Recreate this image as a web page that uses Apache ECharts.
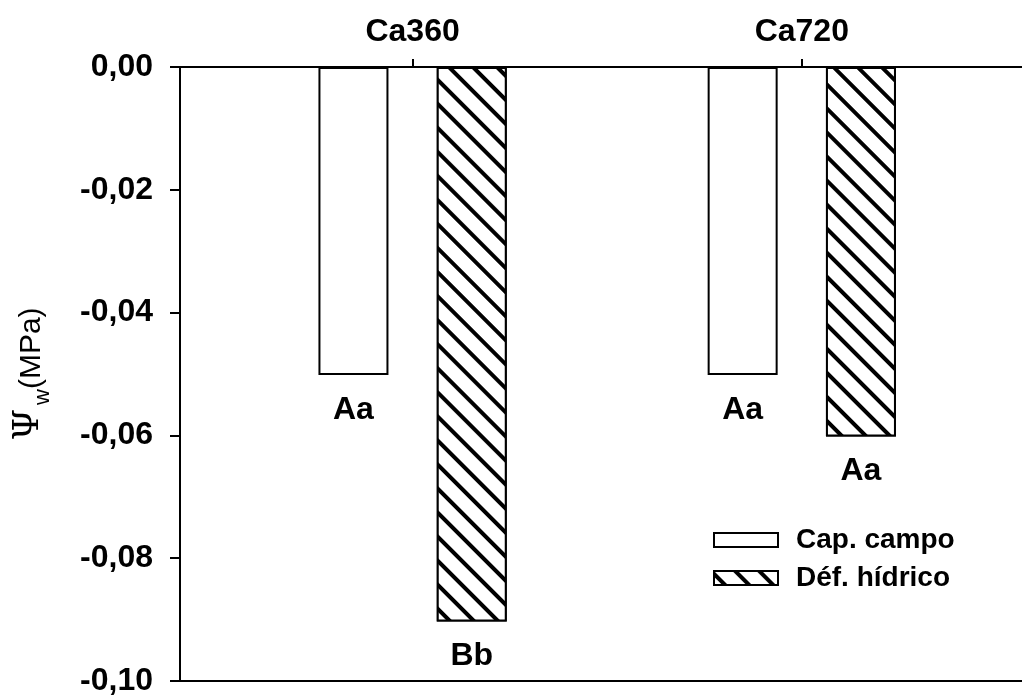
<!DOCTYPE html>
<html>
<head>
<meta charset="utf-8">
<script src="https://cdn.jsdelivr.net/npm/echarts@6/dist/echarts.min.js"></script>
<style>
  html, body { margin: 0; padding: 0; background: #fff; }
  #chart { width: 1022px; height: 697px; }
</style>
</head>
<body>
<div id="chart"></div>
<script>
// Water potential by CO2 level and water regime
const categories = ['Ca360', 'Ca720'];
const seriesNames = ['Cap. campo', 'Déf. hídrico'];
const capCampo = [-0.05, -0.05];
const defHidrico = [-0.09, -0.06];
const capCampoLetters = ['Aa', 'Aa'];
const defHidricoLetters = ['Bb', 'Aa'];
const yTicks = { min: -0.10, max: 0, interval: 0.02 };

const FONT = '"Liberation Sans", Arial, sans-serif';

const hatch = {
  symbol: 'rect',
  symbolSize: 1,
  dashArrayX: [1, 0],
  dashArrayY: [4, 13],
  rotation: Math.PI / 4,
  color: '#000',
  backgroundColor: '#fff'
};

function letterLabel(letters) {
  return {
    show: true,
    position: 'bottom',
    distance: 19,
    formatter: p => letters[p.dataIndex],
    color: '#000',
    fontFamily: FONT,
    fontWeight: 'bold',
    fontSize: 32
  };
}

const chart = echarts.init(document.getElementById('chart'), null, { renderer: 'canvas' });

chart.setOption({
  animation: false,
  backgroundColor: '#fff',
  grid: [
    { left: 180, right: 0, top: 67, bottom: 14 },
    { left: 218, right: 25.6, top: 67, bottom: 14 }
  ],
  legend: {
    orient: 'vertical',
    left: 713,
    top: 526,
    padding: 0,
    itemWidth: 64,
    itemHeight: 14,
    itemGap: 10,
    icon: 'rect',
    data: seriesNames,
    textStyle: {
      color: '#000',
      fontFamily: FONT,
      fontWeight: 'bold',
      fontSize: 28,
      padding: [0, 0, 0, 13]
    }
  },
  xAxis: [
    {
      gridIndex: 0, type: 'value', position: 'top', min: 0, max: 1,
      axisLine: { show: true, lineStyle: { color: '#000', width: 2 } },
      axisTick: { show: false }, axisLabel: { show: false }, splitLine: { show: false }
    },
    {
      gridIndex: 0, type: 'value', position: 'bottom', min: 0, max: 1,
      axisLine: { show: true, lineStyle: { color: '#000', width: 2 } },
      axisTick: { show: false }, axisLabel: { show: false }, splitLine: { show: false }
    },
    {
      gridIndex: 1, type: 'category', position: 'top', data: categories,
      axisLine: { show: false },
      axisTick: { show: true, alignWithLabel: true, length: 8, lineStyle: { color: '#000', width: 2 } },
      axisLabel: { margin: 19, color: '#000', fontFamily: FONT, fontWeight: 'bold', fontSize: 32 },
      splitLine: { show: false }
    }
  ],
  yAxis: [
    {
      gridIndex: 0, type: 'value',
      min: yTicks.min, max: yTicks.max, interval: yTicks.interval,
      axisLine: { show: true, onZero: false, lineStyle: { color: '#000', width: 2 } },
      axisTick: { show: true, inside: false, length: 10, lineStyle: { color: '#000', width: 2 } },
      axisLabel: {
        margin: 27, color: '#000', fontFamily: FONT, fontWeight: 'bold', fontSize: 32,
        formatter: v => v.toFixed(2).replace('.', ',')
      },
      splitLine: { show: false },
      name: '{psi|Ψ}{sub|w}{n|(MPa)}',
      nameLocation: 'middle',
      nameGap: 126,
      nameRotate: 90,
      nameTextStyle: {
        color: '#000',
        rich: {
          psi: { fontFamily: '"DejaVu Serif", "Liberation Serif", serif', fontSize: 36, color: '#000', verticalAlign: 'bottom', padding: [0, 4, 7, 0] },
          sub: { fontFamily: FONT, fontSize: 22, color: '#000', verticalAlign: 'bottom' },
          n: { fontFamily: FONT, fontSize: 30, color: '#000', verticalAlign: 'bottom', padding: [0, 0, 7, 0] }
        }
      }
    },
    {
      gridIndex: 1, type: 'value', show: false,
      min: yTicks.min, max: yTicks.max, interval: yTicks.interval,
      splitLine: { show: false }
    }
  ],
  series: [
    {
      name: seriesNames[0], type: 'bar', xAxisIndex: 2, yAxisIndex: 1,
      data: capCampo, barWidth: 70, barGap: '69%',
      itemStyle: { color: '#fff', borderColor: '#000', borderWidth: 2 },
      label: letterLabel(capCampoLetters)
    },
    {
      name: seriesNames[1], type: 'bar', xAxisIndex: 2, yAxisIndex: 1,
      data: defHidrico, barWidth: 70, barGap: '69%',
      itemStyle: { color: '#fff', borderColor: '#000', borderWidth: 2, decal: hatch },
      label: letterLabel(defHidricoLetters)
    }
  ]
});
</script>
</body>
</html>
